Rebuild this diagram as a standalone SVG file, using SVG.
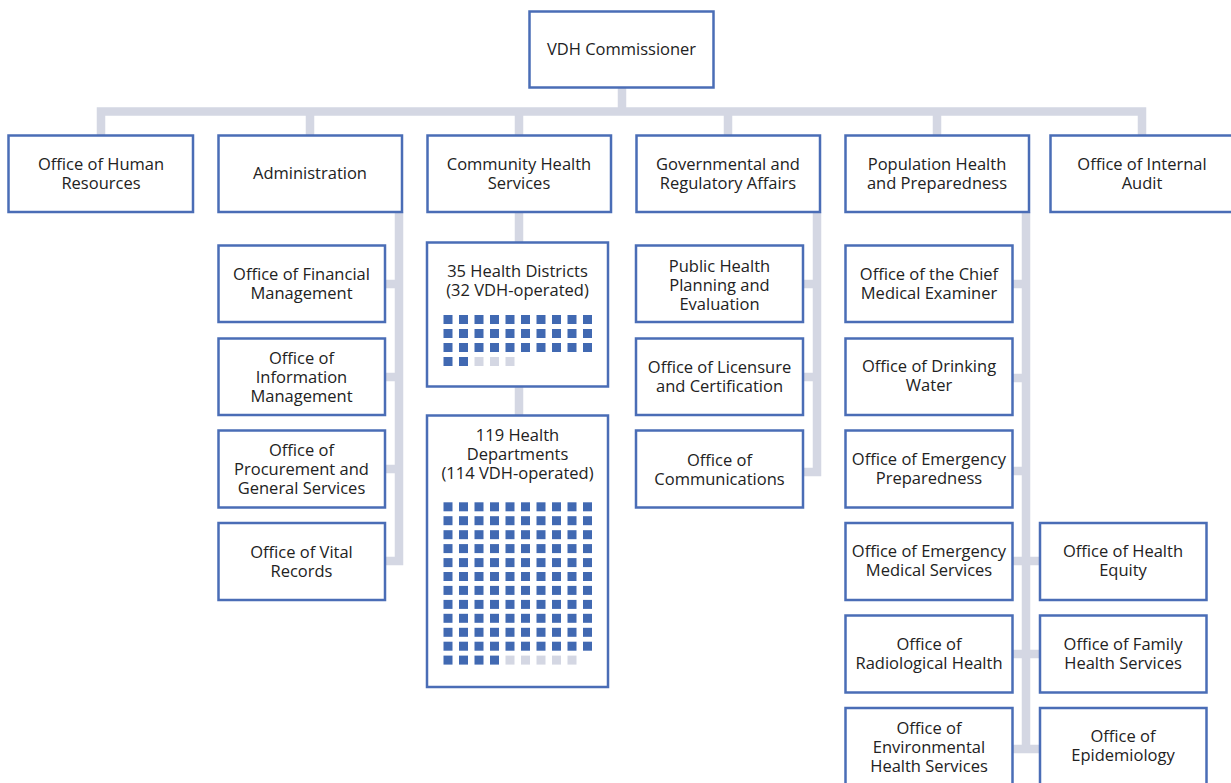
<svg xmlns="http://www.w3.org/2000/svg" xmlns:xlink="http://www.w3.org/1999/xlink" width="1231" height="783" viewBox="0 0 1231 783">
<style>
.box{fill:#ffffff;stroke:#4a6db6;stroke-width:2.5}
.lbl{font-family:"Open Sans","Liberation Sans",sans-serif;font-size:16.5px;fill:#222222;text-anchor:middle}
.con{fill:none;stroke:#d4d7e3;stroke-width:8.5;stroke-linejoin:miter;stroke-linecap:butt}
.sb{fill:#4169b2}
.sg{fill:#d4d7e3}
</style>
<defs>
<g id="row10">
<rect class="sb" x="443.5" y="0" width="9" height="9"/>
<rect class="sb" x="459" y="0" width="9" height="9"/>
<rect class="sb" x="474.5" y="0" width="9" height="9"/>
<rect class="sb" x="490" y="0" width="9" height="9"/>
<rect class="sb" x="505.5" y="0" width="9" height="9"/>
<rect class="sb" x="521" y="0" width="9" height="9"/>
<rect class="sb" x="536.5" y="0" width="9" height="9"/>
<rect class="sb" x="552" y="0" width="9" height="9"/>
<rect class="sb" x="567.5" y="0" width="9" height="9"/>
<rect class="sb" x="583" y="0" width="9" height="9"/>
</g>
</defs>
<rect x="0" y="0" width="1231" height="783" fill="#ffffff"/>

<g id="connectors">
<path class="con" d="M622,87 V111.5"/>
<path class="con" d="M101,135 V111.5 H1142 V135"/>
<path class="con" d="M310,111.5 V135 M519,111.5 V135 M728,111.5 V135 M937,111.5 V135"/>
<path class="con" d="M399,212 V561 H385 M385,284 H399 M385,377 H399 M385,469 H399"/>
<path class="con" d="M519,212 V243 M519,386 V415"/>
<path class="con" d="M817,212 V472 H803 M803,284 H817 M803,377 H817"/>
<path class="con" d="M1026,212 V749 M1012,284 H1026 M1012,378 H1026 M1012,471 H1026 M1012,561 H1040 M1012,654 H1040 M1012,749 H1040"/>
</g>

<g id="vdh-commissioner"><rect class="box" x="529.5" y="11.5" width="184" height="76"/><text class="lbl" x="621.5" y="55">VDH Commissioner</text></g>

<g id="office-human-resources"><rect class="box" x="8.5" y="135.5" width="184.5" height="76.5"/><text class="lbl" x="101" y="169.5">Office of Human</text><text class="lbl" x="101" y="188.5">Resources</text></g>
<g id="administration"><rect class="box" x="218.5" y="135.5" width="183.5" height="76.5"/><text class="lbl" x="310" y="179">Administration</text></g>
<g id="community-health-services"><rect class="box" x="427.5" y="135.5" width="183.5" height="76.5"/><text class="lbl" x="519" y="169.5">Community Health</text><text class="lbl" x="519" y="188.5">Services</text></g>
<g id="governmental-regulatory-affairs"><rect class="box" x="636.5" y="135.5" width="183.5" height="76.5"/><text class="lbl" x="728" y="169.5">Governmental and</text><text class="lbl" x="728" y="188.5">Regulatory Affairs</text></g>
<g id="population-health-preparedness"><rect class="box" x="845.5" y="135.5" width="183.5" height="76.5"/><text class="lbl" x="937" y="169.5">Population Health</text><text class="lbl" x="937" y="188.5">and Preparedness</text></g>
<g id="office-internal-audit"><rect class="box" x="1050.5" y="135.5" width="185" height="76.5"/><text class="lbl" x="1142" y="169.5">Office of Internal</text><text class="lbl" x="1142" y="188.5">Audit</text></g>

<g id="office-financial-management"><rect class="box" x="218.5" y="245.5" width="166.5" height="76.5"/><text class="lbl" x="301.5" y="280">Office of Financial</text><text class="lbl" x="301.5" y="299">Management</text></g>
<g id="office-information-management"><rect class="box" x="218.5" y="338.5" width="166.5" height="76.5"/><text class="lbl" x="301.5" y="363.5">Office of</text><text class="lbl" x="301.5" y="382.5">Information</text><text class="lbl" x="301.5" y="401.5">Management</text></g>
<g id="office-procurement-general-services"><rect class="box" x="218.5" y="430.5" width="166.5" height="77"/><text class="lbl" x="301.5" y="456">Office of</text><text class="lbl" x="301.5" y="475">Procurement and</text><text class="lbl" x="301.5" y="494">General Services</text></g>
<g id="office-vital-records"><rect class="box" x="218.5" y="523" width="166.5" height="77"/><text class="lbl" x="301.5" y="557.5">Office of Vital</text><text class="lbl" x="301.5" y="576.5">Records</text></g>

<g id="health-districts"><rect class="box" x="427" y="242.5" width="181" height="144"/><text class="lbl" x="517.5" y="277">35 Health Districts</text><text class="lbl" x="517.5" y="296">(32 VDH-operated)</text>
<use xlink:href="#row10" transform="translate(0,315)"/>
<use xlink:href="#row10" transform="translate(0,329)"/>
<use xlink:href="#row10" transform="translate(0,343)"/>
<rect class="sb" x="443.5" y="357" width="9" height="9"/><rect class="sb" x="459" y="357" width="9" height="9"/><rect class="sg" x="474.5" y="357" width="9" height="9"/><rect class="sg" x="490" y="357" width="9" height="9"/><rect class="sg" x="505.5" y="357" width="9" height="9"/>
</g>

<g id="health-departments"><rect class="box" x="427" y="415.5" width="181" height="271.5"/><text class="lbl" x="517.5" y="441">119 Health</text><text class="lbl" x="517.5" y="460">Departments</text><text class="lbl" x="517.5" y="479">(114 VDH-operated)</text>
<use xlink:href="#row10" transform="translate(0,502.3)"/>
<use xlink:href="#row10" transform="translate(0,516.2)"/>
<use xlink:href="#row10" transform="translate(0,530.2)"/>
<use xlink:href="#row10" transform="translate(0,544.1)"/>
<use xlink:href="#row10" transform="translate(0,558.1)"/>
<use xlink:href="#row10" transform="translate(0,572)"/>
<use xlink:href="#row10" transform="translate(0,585.9)"/>
<use xlink:href="#row10" transform="translate(0,599.9)"/>
<use xlink:href="#row10" transform="translate(0,613.8)"/>
<use xlink:href="#row10" transform="translate(0,627.8)"/>
<use xlink:href="#row10" transform="translate(0,641.7)"/>
<rect class="sb" x="443.5" y="655.6" width="9" height="9"/><rect class="sb" x="459" y="655.6" width="9" height="9"/><rect class="sb" x="474.5" y="655.6" width="9" height="9"/><rect class="sb" x="490" y="655.6" width="9" height="9"/><rect class="sg" x="505.5" y="655.6" width="9" height="9"/><rect class="sg" x="521" y="655.6" width="9" height="9"/><rect class="sg" x="536.5" y="655.6" width="9" height="9"/><rect class="sg" x="552" y="655.6" width="9" height="9"/><rect class="sg" x="567.5" y="655.6" width="9" height="9"/>
</g>

<g id="public-health-planning-evaluation"><rect class="box" x="636" y="245.5" width="167" height="76.5"/><text class="lbl" x="719.5" y="271.5">Public Health</text><text class="lbl" x="719.5" y="290.5">Planning and</text><text class="lbl" x="719.5" y="309.5">Evaluation</text></g>
<g id="office-licensure-certification"><rect class="box" x="636" y="338.5" width="167" height="76.5"/><text class="lbl" x="719.5" y="373">Office of Licensure</text><text class="lbl" x="719.5" y="392">and Certification</text></g>
<g id="office-communications"><rect class="box" x="636" y="430.5" width="167" height="77"/><text class="lbl" x="719.5" y="465.5">Office of</text><text class="lbl" x="719.5" y="484.5">Communications</text></g>

<g id="office-chief-medical-examiner"><rect class="box" x="845.5" y="245.5" width="167" height="76.5"/><text class="lbl" x="929" y="280">Office of the Chief</text><text class="lbl" x="929" y="299">Medical Examiner</text></g>
<g id="office-drinking-water"><rect class="box" x="845.5" y="338.5" width="167" height="76.5"/><text class="lbl" x="929" y="372">Office of Drinking</text><text class="lbl" x="929" y="391">Water</text></g>
<g id="office-emergency-preparedness"><rect class="box" x="845.5" y="430.5" width="167" height="77"/><text class="lbl" x="929" y="464.5">Office of Emergency</text><text class="lbl" x="929" y="483.5">Preparedness</text></g>
<g id="office-emergency-medical-services"><rect class="box" x="845.5" y="523" width="167" height="77"/><text class="lbl" x="929" y="557">Office of Emergency</text><text class="lbl" x="929" y="576">Medical Services</text></g>
<g id="office-radiological-health"><rect class="box" x="845.5" y="615.5" width="167" height="77"/><text class="lbl" x="929" y="649.5">Office of</text><text class="lbl" x="929" y="668.5">Radiological Health</text></g>
<g id="office-environmental-health-services"><rect class="box" x="845.5" y="708" width="167" height="77"/><text class="lbl" x="929" y="734">Office of</text><text class="lbl" x="929" y="753">Environmental</text><text class="lbl" x="929" y="772">Health Services</text></g>

<g id="office-health-equity"><rect class="box" x="1040" y="523" width="166.5" height="77"/><text class="lbl" x="1123" y="557">Office of Health</text><text class="lbl" x="1123" y="576">Equity</text></g>
<g id="office-family-health-services"><rect class="box" x="1040" y="615.5" width="166.5" height="77"/><text class="lbl" x="1123" y="649.5">Office of Family</text><text class="lbl" x="1123" y="668.5">Health Services</text></g>
<g id="office-epidemiology"><rect class="box" x="1040" y="708" width="166.5" height="77"/><text class="lbl" x="1123" y="742">Office of</text><text class="lbl" x="1123" y="761">Epidemiology</text></g>
</svg>
